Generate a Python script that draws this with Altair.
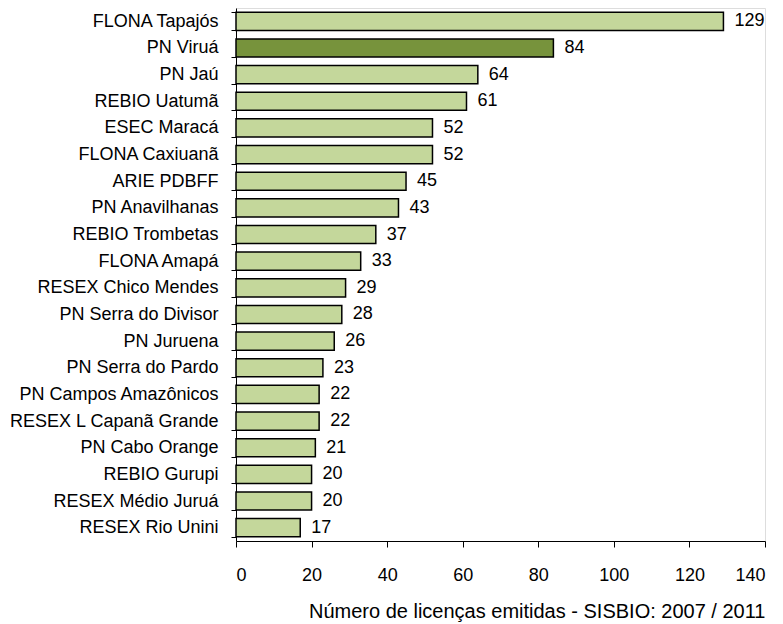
import altair as alt
import pandas as pd

units = [
    "FLONA Tapajós", "PN Viruá", "PN Jaú", "REBIO Uatumã", "ESEC Maracá",
    "FLONA Caxiuanã", "ARIE PDBFF", "PN Anavilhanas", "REBIO Trombetas",
    "FLONA Amapá", "RESEX Chico Mendes ", "PN Serra do Divisor", "PN Juruena",
    "PN Serra do Pardo", "PN Campos Amazônicos", "RESEX L Capanã Grande",
    "PN Cabo Orange", "REBIO Gurupi", "RESEX Médio Juruá", "RESEX Rio Unini",
]
licencas = [129, 84, 64, 61, 52, 52, 45, 43, 37, 33, 29, 28, 26, 23, 22, 22, 21, 20, 20, 17]
destaque = ["PN Viruá"]

df = pd.DataFrame({"unidade": units, "licencas": licencas})
df["grupo"] = ["destaque" if u in destaque else "outros" for u in units]

FONT = "Liberation Sans"
FS = 18

y_enc = alt.Y(
    "unidade:N", sort=units, title=None,
    scale=alt.Scale(paddingInner=0.32, paddingOuter=0.16),
    axis=alt.Axis(
        tickBand="extent", tickSize=5, tickColor="#000", domainColor="#000",
        labelFont=FONT, labelFontSize=FS, labelColor="#000", labelPadding=13,
        labelLimit=300,
    ),
)
x_enc = alt.X(
    "licencas:Q",
    scale=alt.Scale(domain=[0, 140], nice=False),
    title="Número de licenças emitidas - SISBIO: 2007 / 2011",
    axis=alt.Axis(
        values=[0, 20, 40, 60, 80, 100, 120, 140], grid=False,
        tickSize=6, tickColor="#000", domainColor="#000",
        labelFont=FONT, labelFontSize=FS, labelColor="#000", labelPadding=19,
        titleFont=FONT, titleFontSize=20, titleFontWeight="normal",
        titleColor="#000", titleAnchor="end", titlePadding=17,
    ),
)

bars = alt.Chart(df).mark_bar(stroke="#000", strokeWidth=1.5).encode(
    y=y_enc,
    x=x_enc,
    color=alt.Color(
        "grupo:N",
        scale=alt.Scale(domain=["destaque", "outros"], range=["#77933C", "#C4D79B"]),
        legend=None,
    ),
)

labels = alt.Chart(df).mark_text(
    align="left", baseline="middle", dx=11, font=FONT, fontSize=FS, color="#000"
).encode(
    y=alt.Y("unidade:N", sort=units),
    x=alt.X("licencas:Q"),
    text="licencas:Q",
)

chart = (
    (bars + labels)
    .properties(
        width=529, height=533,
        autosize=alt.AutoSizeParams(type="none"),
        padding={"left": 236, "top": 8, "right": 18, "bottom": 83},
    )
    .configure_view(stroke=None)
    .configure(background="#ffffff")
)

chart.save("out.html", embed_options={"renderer": "svg", "actions": False})
